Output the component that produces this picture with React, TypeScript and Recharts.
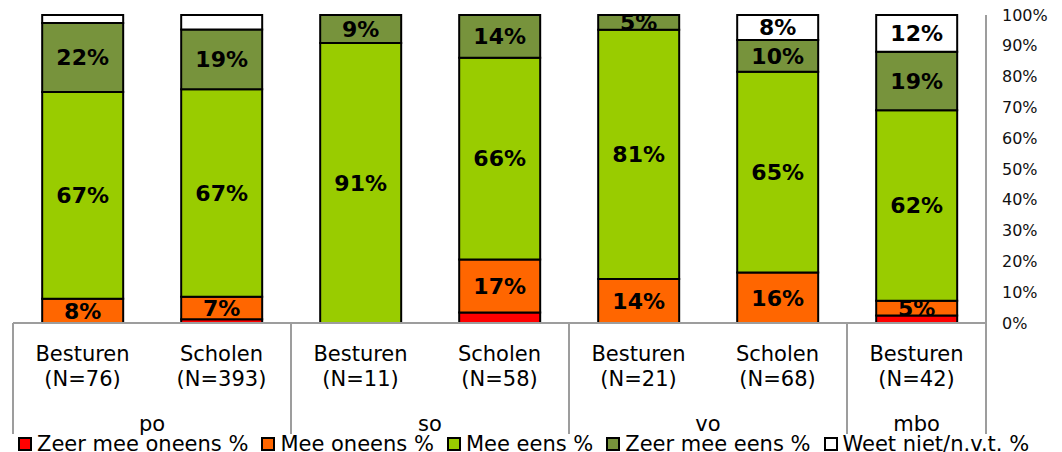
import React from "react";
import { Bar, BarChart, LabelList, Legend, XAxis, YAxis } from "recharts";

const categories = ["Besturen", "Scholen", "Besturen", "Scholen", "Besturen", "Scholen", "Besturen"];
const respondents = [76, 393, 11, 58, 21, 68, 42];
const groups = ["po", "po", "so", "so", "vo", "vo", "mbo"];

const zeerOneens = [0, 1.2, 0, 3.4, 0, 0, 2.4];
const meeOneens = [7.9, 7.3, 0, 17.2, 14.3, 16.4, 4.8];
const meeEens = [67.1, 67.4, 90.9, 65.5, 80.9, 65.2, 61.9];
const zeerEens = [22.4, 19.4, 9.1, 13.9, 4.8, 10.3, 19.0];
const weetNiet = [2.6, 4.7, 0, 0, 0, 8.1, 11.9];

const yTicks = [0, 10, 20, 30, 40, 50, 60, 70, 80, 90, 100];

const series = [
  { key: "zeerOneens", name: "Zeer mee oneens %", color: "#ff0000", values: zeerOneens },
  { key: "meeOneens", name: "Mee oneens %", color: "#ff6600", values: meeOneens },
  { key: "meeEens", name: "Mee eens %", color: "#99cc00", values: meeEens },
  { key: "zeerEens", name: "Zeer mee eens %", color: "#77933c", values: zeerEens },
  { key: "weetNiet", name: "Weet niet/n.v.t. %", color: "#ffffff", values: weetNiet },
];

const data = categories.map((cat, i) => {
  const row: Record<string, string | number> = {
    id: `${groups[i]}-${cat}`,
    cat,
    n: respondents[i],
    group: groups[i],
  };
  series.forEach((s) => {
    row[s.key] = s.values[i];
  });
  return row;
});

const FONT = "'DejaVu Sans', Verdana, sans-serif";
const LINE = "#9d9d9d";
const BAND = (986 - 13) / categories.length;

function CategoryTick(props: any) {
  const { x, y, payload } = props;
  const i = payload.index;
  const isFirst = i === 0 || groups[i - 1] !== groups[i];
  const isLast = i === categories.length - 1;
  let count = 0;
  if (isFirst) {
    while (groups[i + count] === groups[i]) count++;
  }
  return (
    <g>
      <text x={x} y={y + 38} textAnchor="middle" fontSize={21} fontFamily={FONT} fill="#000">
        {categories[i]}
      </text>
      <text x={x} y={y + 63} textAnchor="middle" fontSize={21} fontFamily={FONT} fill="#000">
        {`(N=${respondents[i]})`}
      </text>
      {isFirst && (
        <>
          <line x1={x - BAND / 2} x2={x - BAND / 2} y1={y} y2={y + 111} stroke={LINE} strokeWidth={2} />
          <text
            x={x + ((count - 1) * BAND) / 2}
            y={y + 108}
            textAnchor="middle"
            fontSize={21}
            fontFamily={FONT}
            fill="#000"
          >
            {groups[i]}
          </text>
        </>
      )}
      {isLast && <line x1={x + BAND / 2} x2={x + BAND / 2} y1={y} y2={y + 111} stroke={LINE} strokeWidth={2} />}
    </g>
  );
}

function LegendContent() {
  return (
    <div
      style={{
        display: "flex",
        height: 22,
        paddingLeft: 5,
        marginTop: 3,
        fontFamily: FONT,
        fontSize: 21,
        lineHeight: "22px",
        whiteSpace: "nowrap",
      }}
    >
      {series.map((s) => (
        <div key={s.key} style={{ display: "flex", alignItems: "center", marginRight: 13 }}>
          <span
            style={{
              display: "inline-block",
              width: 10,
              height: 10,
              border: "2px solid #000",
              background: s.color,
              marginRight: 5,
            }}
          />
          <span>{s.name}</span>
        </div>
      ))}
    </div>
  );
}

const fmt = (v: any) => (Number(v) >= 4.75 ? `${Math.round(Number(v))}%` : "");

export default function App() {
  return (
    <div style={{ position: "absolute", left: 0, top: 0, width: 1062, height: 452, background: "#fff", overflow: "hidden" }}>
      <BarChart
        width={1062}
        height={452}
        data={data}
        margin={{ top: 15, right: 0, bottom: 0, left: 13 }}
        barCategoryGap="21%"
      >
        <XAxis
          dataKey="id"
          tick={<CategoryTick />}
          tickLine={false}
          tickSize={0}
          tickMargin={0}
          interval={0}
          height={107}
          axisLine={{ stroke: LINE, strokeWidth: 2 }}
        />
        <YAxis
          orientation="right"
          domain={[0, 100]}
          ticks={yTicks}
          tickFormatter={(v) => `${v}%`}
          tickLine={false}
          tickSize={0}
          tickMargin={16}
          width={76}
          axisLine={{ stroke: LINE, strokeWidth: 2 }}
          tick={{ fontSize: 16, fontFamily: FONT, fill: "#111", textAnchor: "start" }}
        />
        <Legend verticalAlign="bottom" align="left" height={22} content={<LegendContent />} />
        {series.map((s) => (
          <Bar
            key={s.key}
            dataKey={s.key}
            name={s.name}
            stackId="a"
            fill={s.color}
            stroke="#000"
            strokeWidth={2}
            isAnimationActive={false}
          >
            <LabelList
              dataKey={s.key}
              position="center"
              formatter={fmt}
              fill="#000"
              fontSize={22}
              fontWeight="bold"
              fontFamily={FONT}
            />
          </Bar>
        ))}
      </BarChart>
    </div>
  );
}
